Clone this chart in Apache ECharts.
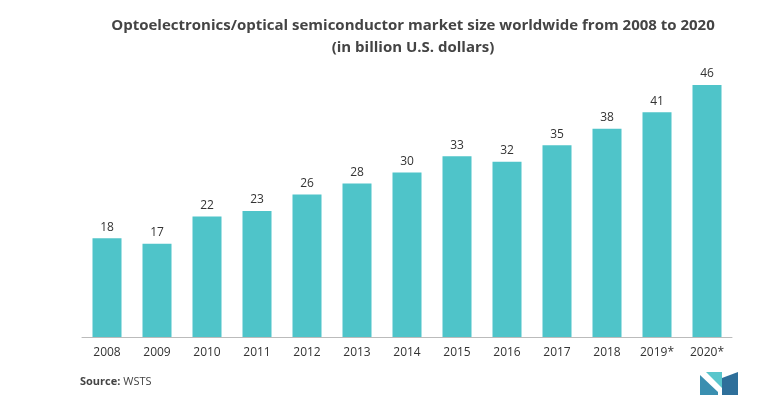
<!DOCTYPE html>
<html><head><meta charset="utf-8">
<script src="https://cdn.jsdelivr.net/npm/echarts@6/dist/echarts.min.js"></script>
<style>html,body{margin:0;padding:0;background:#fff}#chart{width:781px;height:419px}</style>
</head><body><div id="chart"></div>
<script>
var years = ['2008','2009','2010','2011','2012','2013','2014','2015','2016','2017','2018','2019*','2020*'];
var marketSize = [18,17,22,23,26,28,30,33,32,35,38,41,46];

var chart = echarts.init(document.getElementById('chart'));
var option = {
    title: {
        text: 'Optoelectronics/optical semiconductor market size worldwide from 2008 to 2020\n(in billion U.S. dollars)',
        left: 408, top: 10, textAlign: 'center',
        textStyle: {fontFamily: 'Open Sans', fontSize: 15, fontWeight: 'bold', color: '#444', lineHeight: 22}
    },
    grid: {left: 82, right: 49, top: 63, bottom: 82},
    xAxis: {
        type: 'category', data: years,
        axisLine: {lineStyle: {color: '#bbb'}},
        axisTick: {show: false},
        axisLabel: {color: '#333', fontSize: 12, margin: 10, fontFamily: 'Open Sans'}
    },
    yAxis: {type: 'value', min: 0, max: 50, show: false, splitLine: {show: false}},
    series: [{
        type: 'bar', data: marketSize, barWidth: 29,
        itemStyle: {color: '#4fc4c9'},
        label: {show: true, position: 'top', color: '#333', fontSize: 12, fontFamily: 'Open Sans'}
    }],
    graphic: [
        {type: 'text', left: 80, top: 376, style: {
            text: '{b|Source:} WSTS', fill: '#444', font: '11px Open Sans',
            rich: {b: {fontWeight: 'bold', fontSize: 11, fontFamily: 'Open Sans', fill: '#444'}}
        }},
        {type: 'polygon', shape: {points: [[700,395],[700,375],[718,392],[718,395]]}, style: {fill: '#3a8fb0'}},
        {type: 'polygon', shape: {points: [[706,372],[722,372],[722,388]]}, style: {fill: '#59c6cc'}},
        {type: 'polygon', shape: {points: [[722,395],[722,378],[738,372],[738,395]]}, style: {fill: '#2e6f9a'}}
    ]
};
chart.setOption(option);
</script></body></html>
